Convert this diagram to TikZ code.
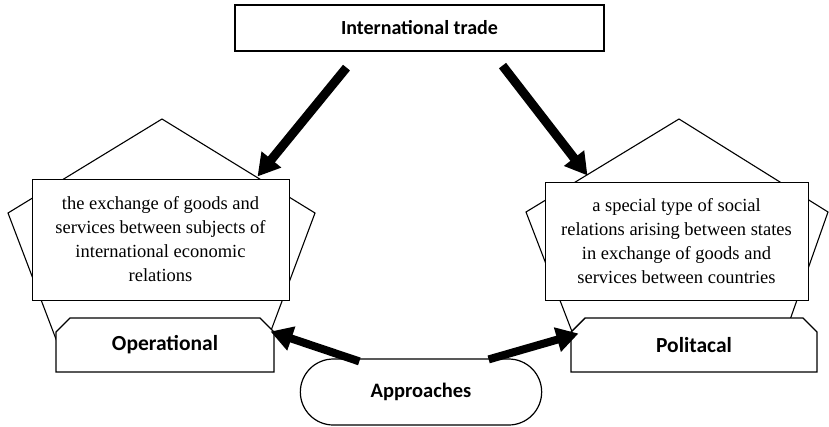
\documentclass[tikz,border=0pt]{standalone}
\usepackage{fontspec}
\setmainfont{Liberation Serif}
\newfontfamily\headfont{Carlito}
\usetikzlibrary{shapes.misc, arrows.meta, positioning}

\tikzset{
  defbox/.style={draw, line width=1pt, fill=white, align=center, inner sep=2pt,
    font=\fontsize{18.5}{24}\selectfont},
  tagbox/.style={draw, line width=1.4pt, fill=white, chamfered rectangle,
    chamfered rectangle corners={north west,north east},
    chamfered rectangle xsep=7pt, chamfered rectangle ysep=7pt,
    minimum height=54pt, font=\headfont\bfseries\fontsize{21.5}{24}\selectfont},
  pent/.style={draw, line width=1.1pt, fill=white},
  fatarrow/.style={line width=9pt, -{Triangle[length=22pt,width=24pt]}},
}

\begin{document}
\begin{tikzpicture}[x=1pt, y=-1pt]
\useasboundingbox (0,0) rectangle (829,426);

% pentagons behind the boxes
\draw[pent] (162,119) -- (315,213) -- (257,368) -- (67,368) -- (8,213) -- cycle;
\draw[pent] (679,119) -- (828,212) -- (773,368) -- (586,368) -- (526,212) -- cycle;

\node[draw, line width=1.2pt, fill=white, minimum width=369pt, minimum height=46pt,
  font=\headfont\bfseries\fontsize{20}{24}\selectfont] (trade) at (419.5,28) {International trade};

\node[defbox, minimum width=257pt, minimum height=121pt] (opdef) at (160.5,239.5)
  {the exchange of goods and\\services between subjects of\\international economic\\relations};
\node[defbox, minimum width=263pt, minimum height=118pt] (poldef) at (676.5,241)
  {a special type of social\\relations arising between states\\in exchange of goods and\\services between countries};

\node[tagbox, minimum width=218pt] (oper) at (165,345) {Operational};
\node[tagbox, minimum width=246pt] (poli) at (694,345) {Politacal};

\node[draw, line width=1.2pt, fill=white, rounded rectangle, minimum width=248pt, minimum height=66pt,
  font=\headfont\bfseries\fontsize{20.5}{24}\selectfont] (appr) at (421,392) {Approaches};

% arrows
\draw[fatarrow] ([xshift=-73pt,yshift=-16pt]trade.south) -- ([xshift=-32pt,yshift=2pt]opdef.north east);
\draw[fatarrow] ([xshift=83pt,yshift=-14pt]trade.south) -- ([xshift=43pt,yshift=6pt]poldef.north west);
\draw[fatarrow, line width=8pt] ([xshift=26pt,yshift=-3pt]appr.north west) -- ([xshift=3pt,yshift=-7pt]oper.north east);
\draw[fatarrow, line width=8pt] ([xshift=-20pt,yshift=-1pt]appr.north east) -- ([xshift=1pt,yshift=-9pt]poli.north west);

\end{tikzpicture}
\end{document}
